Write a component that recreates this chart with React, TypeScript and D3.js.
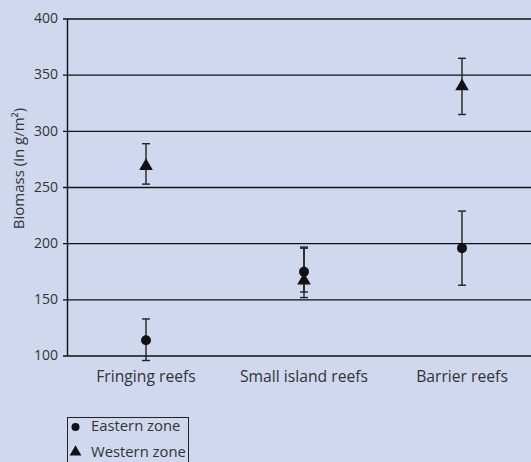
import React from "react";
import * as d3 from "d3";

const categories = ["Fringing reefs", "Small island reefs", "Barrier reefs"];
const eastMean = [114, 175, 196];
const eastLow = [96, 157, 163];
const eastHigh = [133, 197, 229];
const westMean = [270, 168, 341];
const westLow = [253, 152, 315];
const westHigh = [289, 196, 365];
const yTicks = [100, 150, 200, 250, 300, 350, 400];

const W = 531;
const H = 462;
const FONT = "'Open Sans', sans-serif";
const TXT = "#333";

export default function App() {
  const x = d3.scaleBand<string>().domain(categories).range([67, 541]);
  const y = d3.scaleLinear().domain([100, 400]).range([356, 19]);
  const cx = (c: string) => (x(c) as number) + x.bandwidth() / 2;
  const tri = d3.symbol().type(d3.symbolTriangle).size(80)();

  const errBar = (c: string, lo: number, hi: number, key: string) => {
    const px = cx(c);
    return (
      <g key={key} stroke="#222" strokeWidth={1.4}>
        <line x1={px} x2={px} y1={y(lo)} y2={y(hi)} />
        <line x1={px - 4} x2={px + 4} y1={y(lo)} y2={y(lo)} />
        <line x1={px - 4} x2={px + 4} y1={y(hi)} y2={y(hi)} />
      </g>
    );
  };

  return (
    <svg
      width={W}
      height={H}
      style={{ position: "absolute", left: 0, top: 0, background: "#cfd8ef" }}
      fontFamily={FONT}
    >
      <rect width={W} height={H} fill="#cfd8ef" />
      {yTicks.map((t) => (
        <g key={t}>
          <line x1={63} x2={W} y1={y(t)} y2={y(t)} stroke="#111" strokeWidth={1.4} />
          <text x={58} y={y(t)} dy="0.3em" textAnchor="end" fontSize={14} fill={TXT}>
            {t}
          </text>
        </g>
      ))}
      <line x1={67.5} x2={67.5} y1={y(400)} y2={y(100)} stroke="#111" strokeWidth={1.4} />
      <text
        transform={`translate(23.5,168.5) rotate(-90)`}
        textAnchor="middle"
        fontSize={15}
        fill={TXT}
      >
        Biomass (in g/m²)
      </text>
      {categories.map((c) => (
        <text key={c} x={cx(c)} y={381.5} textAnchor="middle" fontSize={15.7} fill={TXT}>
          {c}
        </text>
      ))}
      {categories.map((c, i) => errBar(c, eastLow[i], eastHigh[i], "e" + i))}
      {categories.map((c, i) => errBar(c, westLow[i], westHigh[i], "w" + i))}
      {categories.map((c, i) => (
        <circle key={"ec" + i} cx={cx(c)} cy={y(eastMean[i])} r={5} fill="#111" />
      ))}
      {categories.map((c, i) => (
        <path key={"wt" + i} d={tri as string} transform={`translate(${cx(c)},${y(westMean[i]) + 1})`} fill="#111" />
      ))}
      <rect x={67.5} y={417.5} width={121} height={60} fill="none" stroke="#222" strokeWidth={1} />
      <circle cx={75.5} cy={427} r={4} fill="#111" />
      <text x={91} y={431} fontSize={14.8} fill={TXT}>
        Eastern zone
      </text>
      <path d={d3.symbol().type(d3.symbolTriangle).size(60)() as string} transform="translate(75.5,452)" fill="#111" />
      <text x={91} y={456.5} fontSize={14.8} fill={TXT}>
        Western zone
      </text>
    </svg>
  );
}
